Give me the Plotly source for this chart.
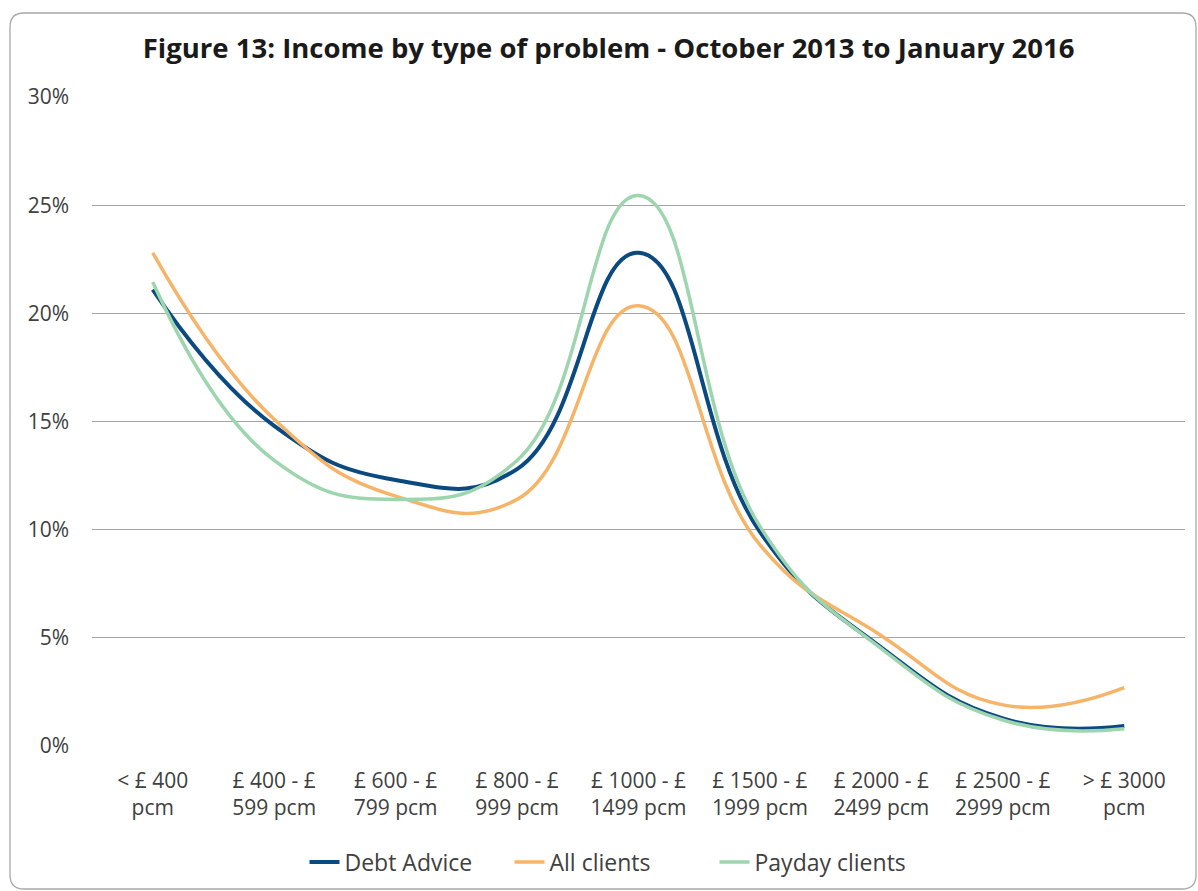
import plotly.graph_objects as go

categories = ["&lt; £ 400<br>pcm", "£ 400 - £<br>599 pcm", "£ 600 - £<br>799 pcm",
              "£ 800 - £<br>999 pcm", "£ 1000 - £<br>1499 pcm", "£ 1500 - £<br>1999 pcm",
              "£ 2000 - £<br>2499 pcm", "£ 2500 - £<br>2999 pcm", "&gt; £ 3000<br>pcm"]
debt_advice = [21.1, 14.8, 12.3, 12.8, 22.8, 9.9, 4.55, 1.27, 0.92]
all_clients = [22.8, 15.1, 11.55, 11.4, 20.35, 9.3, 5.1, 1.9, 2.7]
payday_clients = [21.45, 13.2, 11.4, 13.2, 25.45, 10.15, 4.5, 1.2, 0.8]
y_ticks = [0, 5, 10, 15, 20, 25, 30]
y_tick_text = ["0%", "5%", "10%", "15%", "20%", "25%", "30%"]

W, H = 1198, 891
L, R, T, B = 92, W - 1185, 97, H - 746
FONT = "Open Sans"
TXT = "#404040"

fig = go.Figure()
series = [("Debt Advice", debt_advice, "#0b4a80", 4),
          ("All clients", all_clients, "#f6b469", 3.5),
          ("Payday clients", payday_clients, "#9dd5ae", 3.5)]
for name, vals, col, w in series:
    fig.add_trace(go.Scatter(x=list(range(len(categories))), y=vals, name=name,
                             mode="lines", line=dict(color=col, width=w, shape="spline", smoothing=1.3),
                             hoverinfo="skip"))

ph = H - T - B
pw = W - L - R
# rounded chart border (pixel-sized path anchored at plot origin)
x0, x1 = 10 - L, 1196 - L
y1, y0 = (H - B) - 13, (H - B) - 889
r = 14
path = (f"M{x0+r},{y1} L{x1-r},{y1} Q{x1},{y1} {x1},{y1-r} L{x1},{y0+r} Q{x1},{y0} {x1-r},{y0} "
        f"L{x0+r},{y0} Q{x0},{y0} {x0},{y0+r} L{x0},{y1-r} Q{x0},{y1} {x0+r},{y1} Z")
fig.add_shape(type="path", xref="paper", yref="paper", xsizemode="pixel", ysizemode="pixel",
              xanchor=0, yanchor=0, path=path, line=dict(color="#a8a8a8", width=1.3), layer="below")

fig.update_layout(
    width=W, height=H, margin=dict(l=L, r=R, t=T, b=B, autoexpand=False),
    paper_bgcolor="white", plot_bgcolor="white",
    font=dict(family=FONT, color=TXT, size=21),
    title=dict(text="<b>Figure 13: Income by type of problem - October 2013 to January 2016</b>",
               x=0.508, xanchor="center", y=1 - 48 / H, yanchor="middle",
               font=dict(family=FONT, size=27.5, color="#1a1a1a")),
    showlegend=True,
    legend=dict(orientation="h", x=(612 - L) / pw, xanchor="center", y=-(862 - (H - B)) / ph,
                yanchor="middle", font=dict(family=FONT, size=23, color=TXT),
                entrywidth=160, entrywidthmode="pixels", tracegroupgap=0),
    xaxis=dict(tickmode="array", tickvals=list(range(len(categories))), ticktext=categories,
               range=[-0.5, len(categories) - 0.5], showgrid=False, zeroline=False, showline=False,
               ticks="", ticklabelstandoff=20, fixedrange=True, automargin=False),
    yaxis=dict(range=[0, 30], tickmode="array", tickvals=y_ticks, ticktext=y_tick_text,
               showgrid=True, gridcolor="#a6a6a6", gridwidth=1.3, zeroline=False, showline=False,
               ticks="", ticklabelstandoff=22, fixedrange=True, automargin=False),
)
fig.write_html("out.html")
